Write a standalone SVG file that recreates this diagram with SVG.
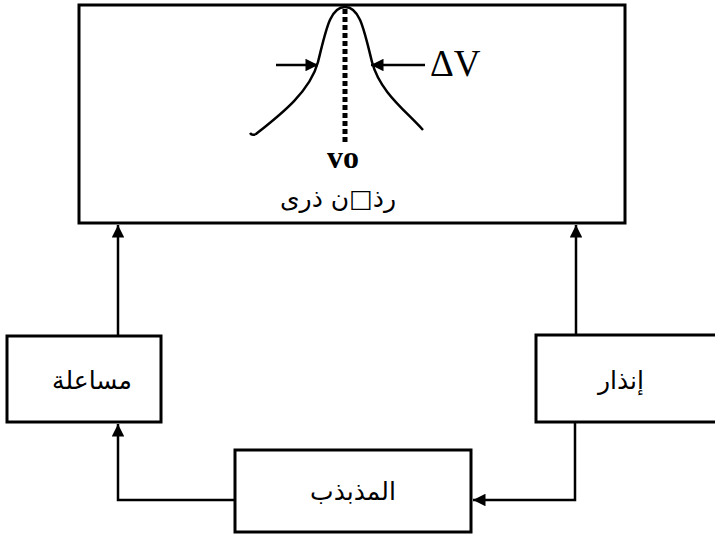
<svg xmlns="http://www.w3.org/2000/svg" width="715" height="539" viewBox="0 0 715 539">
<style>
.box{fill:#fff;stroke:#000;stroke-width:3}
.ln{fill:none;stroke:#000;stroke-width:2.5}
.ar{font-family:"DejaVu Sans","Noto Sans",sans-serif;font-size:25px;text-anchor:middle;fill:#000}
.lt{font-family:"Liberation Serif",serif;fill:#000}
</style>
<defs>
<marker id="ah" viewBox="0 0 10 10" refX="10" refY="5" markerWidth="6" markerHeight="5" orient="auto" markerUnits="strokeWidth">
<path d="M0,0 L10,5 L0,10 Z" fill="#000"/>
</marker>
</defs>
<rect width="715" height="539" fill="#fff"/>
<g id="connectors">
<line class="ln" x1="118" y1="336" x2="118" y2="225" marker-end="url(#ah)"/>
<line class="ln" x1="576" y1="335" x2="576" y2="225" marker-end="url(#ah)"/>
<polyline class="ln" points="235,500 118,500 118,424" marker-end="url(#ah)"/>
<polyline class="ln" points="575,422 575,500 473,500" marker-end="url(#ah)"/>
</g>
<g id="main">
<rect class="box" x="79" y="5" width="546" height="218"/>
<path class="ln" d="M250,133 Q252,136 256,134 C280,115 310,92 318,62 C326,30 330,7 345,7 C360,7 364,30 372,62 C380,92 405,110 423,130"/>
<line x1="345" y1="9" x2="345" y2="142" stroke="#000" stroke-width="5" stroke-dasharray="5 3"/>
<line class="ln" x1="276" y1="65" x2="318" y2="65" marker-end="url(#ah)"/>
<line class="ln" x1="425" y1="65" x2="371" y2="65" marker-end="url(#ah)"/>
<text class="lt" x="430" y="76" font-size="37">ΔV</text>
<text class="lt" x="343" y="168" font-size="32" font-weight="bold" text-anchor="middle">vo</text>
<text class="ar" x="338" y="207" font-size="23">رذ□ن ذرى</text>
</g>
<g id="musaala">
<rect class="box" x="7" y="336" width="154" height="86"/>
<text class="ar" x="92" y="389">مساعلة</text>
</g>
<g id="indhar">
<rect class="box" x="536" y="335" width="185" height="87"/>
<text class="ar" x="621" y="389">إنذار</text>
</g>
<g id="oscillator">
<rect class="box" x="235" y="450" width="236" height="82"/>
<text class="ar" x="353" y="500">المذبذب</text>
</g>
</svg>
